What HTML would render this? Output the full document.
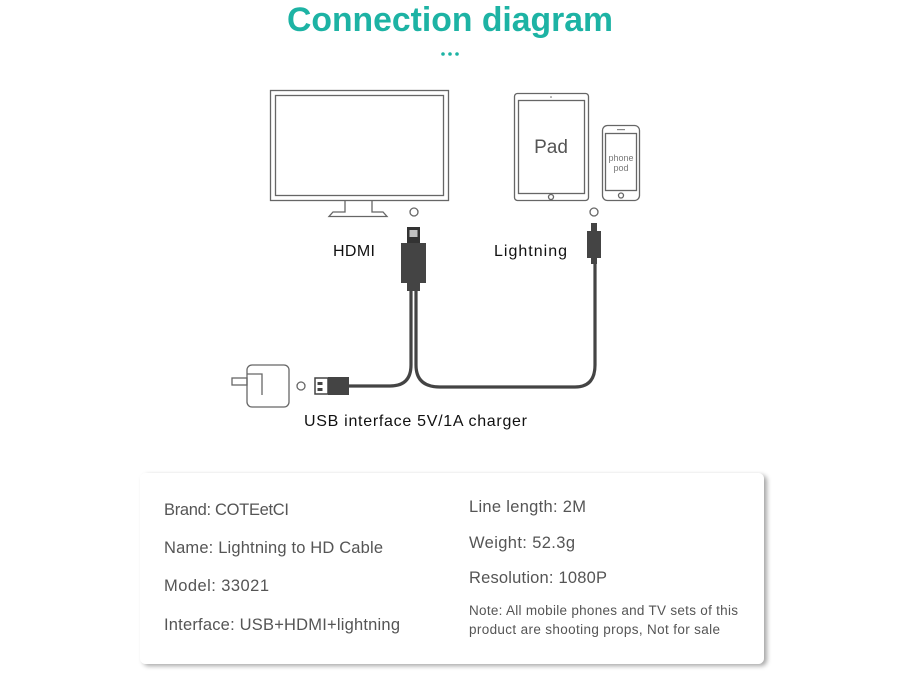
<!DOCTYPE html>
<html><head><meta charset="utf-8"><style>html,body{margin:0;padding:0;background:#fff}svg{display:block}</style></head>
<body>
<svg width="900" height="675" viewBox="0 0 900 675" xmlns="http://www.w3.org/2000/svg" font-family="Liberation Sans, DejaVu Sans, sans-serif">
<defs>
<filter id="sh" x="-5%" y="-10%" width="115%" height="125%"><feDropShadow dx="3" dy="2" stdDeviation="2.5" flood-color="#000" flood-opacity="0.35"/></filter>
</defs>
<text x="450" y="31" text-anchor="middle" font-size="34" font-weight="bold" fill="#1db3a4" textLength="326" lengthAdjust="spacingAndGlyphs">Connection diagram</text>
<g fill="#1db3a4"><circle cx="443" cy="54" r="1.8"/><circle cx="450" cy="54" r="1.8"/><circle cx="457" cy="54" r="1.8"/></g>

<g fill="none" stroke="#666" stroke-width="1.3">
<rect x="270.5" y="90.5" width="178" height="110"/>
<rect x="275.5" y="95.5" width="168" height="100"/>
<path d="M345 200 V212 H333 L329 216.5 H387 L383 212 H372 V200"/>
<rect x="514.5" y="93.5" width="74" height="107" rx="3"/>
<rect x="518.5" y="100.5" width="66" height="93"/>
<circle cx="551" cy="197" r="2.5"/>
<rect x="602.5" y="125.5" width="37" height="75" rx="5"/>
<rect x="605.5" y="133.5" width="31" height="57"/>
<circle cx="621" cy="195.5" r="2.5"/>
<circle cx="414" cy="212" r="4"/>
<circle cx="594" cy="212" r="4"/>
<circle cx="301" cy="386" r="4"/>
<rect x="247" y="365" width="42" height="42" rx="5"/>
<path d="M247 374 H262 V395"/>
<rect x="232" y="378" width="15" height="7"/>
</g>
<circle cx="551" cy="97" r="0.8" fill="#666"/>
<rect x="617" y="129" width="8" height="1.2" fill="#888"/>
<text x="551" y="153" text-anchor="middle" font-size="19" fill="#555">Pad</text>
<text x="621" y="161" text-anchor="middle" font-size="9" fill="#777">phone</text>
<text x="621" y="171" text-anchor="middle" font-size="9" fill="#777">pod</text>

<g fill="none" stroke="#444" stroke-width="3.2">
<path d="M411 282 V365 Q411 386 390 386 H346"/>
<path d="M416 282 V365 Q416 387 440 387 H575 Q595 387 595 365 V258"/>
</g>
<rect x="407" y="227" width="13" height="16" fill="#333"/>
<rect x="409.5" y="230" width="8" height="7" fill="#fff" opacity="0.7"/>
<rect x="401" y="243" width="25" height="40" fill="#444"/>
<rect x="407" y="283" width="13" height="8" fill="#444"/>
<rect x="591" y="223" width="6" height="8" fill="#444"/>
<rect x="587" y="231" width="14" height="27" fill="#444"/>
<rect x="591" y="258" width="6" height="6" fill="#444"/>
<rect x="315" y="378" width="13" height="16" fill="#fff" stroke="#444" stroke-width="1.5"/>
<rect x="317.5" y="382" width="5" height="3" fill="#444"/>
<rect x="317.5" y="388" width="5" height="3" fill="#444"/>
<rect x="328" y="377" width="21" height="18" fill="#444"/>

<g font-size="16" fill="#111">
<text x="333" y="256" textLength="42">HDMI</text>
<text x="494" y="256" textLength="73">Lightning</text>
<text x="304" y="426" textLength="223">USB interface 5V/1A charger</text>
</g>

<rect x="140" y="473" width="624" height="191" rx="6" fill="#fff" filter="url(#sh)"/>
<g font-size="16.5" fill="#555">
<text x="164" y="515" textLength="125">Brand: COTEetCI</text>
<text x="164" y="553" textLength="219">Name: Lightning to HD Cable</text>
<text x="164" y="591" textLength="105">Model: 33021</text>
<text x="164" y="630" textLength="236">Interface: USB+HDMI+lightning</text>
<text x="469" y="512" textLength="117">Line length: 2M</text>
<text x="469" y="548" textLength="106">Weight: 52.3g</text>
<text x="469" y="583" textLength="138">Resolution: 1080P</text>
</g>
<g font-size="13.5" fill="#555">
<text x="469" y="615" textLength="269">Note: All mobile phones and TV sets of this</text>
<text x="469" y="634" textLength="251">product are shooting props, Not for sale</text>
</g>
</svg>
</body></html>
